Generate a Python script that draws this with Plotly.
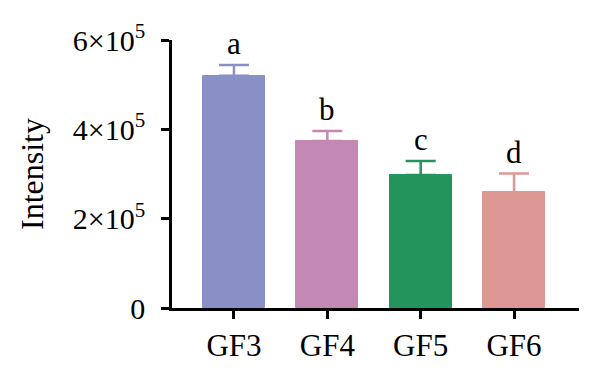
import plotly.graph_objects as go

categories = ["GF3", "GF4", "GF5", "GF6"]
means = [520000, 374000, 298000, 259000]
errors = [24000, 22000, 31000, 42000]
letters = ["a", "b", "c", "d"]
colors = ["#8890C5", "#C388B4", "#23955C", "#DE9894"]
ytick_vals = [0, 200000, 400000, 600000]
ytick_text = ["0", "2×10<sup>5</sup>", "4×10<sup>5</sup>", "6×10<sup>5</sup>"]

FONT = "Liberation Serif"

fig = go.Figure()
fig.add_trace(go.Bar(
    x=list(range(len(categories))),
    y=means,
    width=0.664,
    marker=dict(color=colors, line=dict(color=colors, width=1)),
    showlegend=False,
))
for i, (m, e, c) in enumerate(zip(means, errors, colors)):
    fig.add_trace(go.Scatter(
        x=[i], y=[m], mode="markers", marker=dict(size=0.1, color="rgba(0,0,0,0)"),
        error_y=dict(type="data", array=[e], arrayminus=[0], symmetric=False,
                     color=c, thickness=2.5, width=15),
        showlegend=False, hoverinfo="skip"))

for i, (m, e, t) in enumerate(zip(means, errors, letters)):
    fig.add_annotation(x=i, y=m + e, text=t, showarrow=False, yanchor="bottom",
                       yshift=2, font=dict(family=FONT, size=31, color="#000"))

fig.update_layout(
    width=600, height=381,
    margin=dict(l=164, r=29, t=32, b=81),
    plot_bgcolor="white", paper_bgcolor="white",
    font=dict(family=FONT, size=30, color="#000"),
    bargap=0,
)
fig.update_xaxes(
    range=[-0.664, 3.696],
    tickvals=list(range(len(categories))), ticktext=categories,
    showline=True, linecolor="#000", linewidth=2.5,
    ticks="outside", ticklen=8, tickwidth=2.5, tickcolor="#000",
    showgrid=False, zeroline=False,
    tickfont=dict(family=FONT, size=31),
)
fig.update_yaxes(
    range=[0, 600000],
    tickvals=ytick_vals, ticktext=ytick_text,
    showline=True, linecolor="#000", linewidth=2.5,
    ticks="outside", ticklen=8, tickwidth=2.5, tickcolor="#000",
    showgrid=False, zeroline=False,
    ticklabelstandoff=10,
    tickfont=dict(family=FONT, size=30),
    title=dict(text="Intensity", font=dict(family=FONT, size=32), standoff=20),
)

fig.write_html("out.html")
